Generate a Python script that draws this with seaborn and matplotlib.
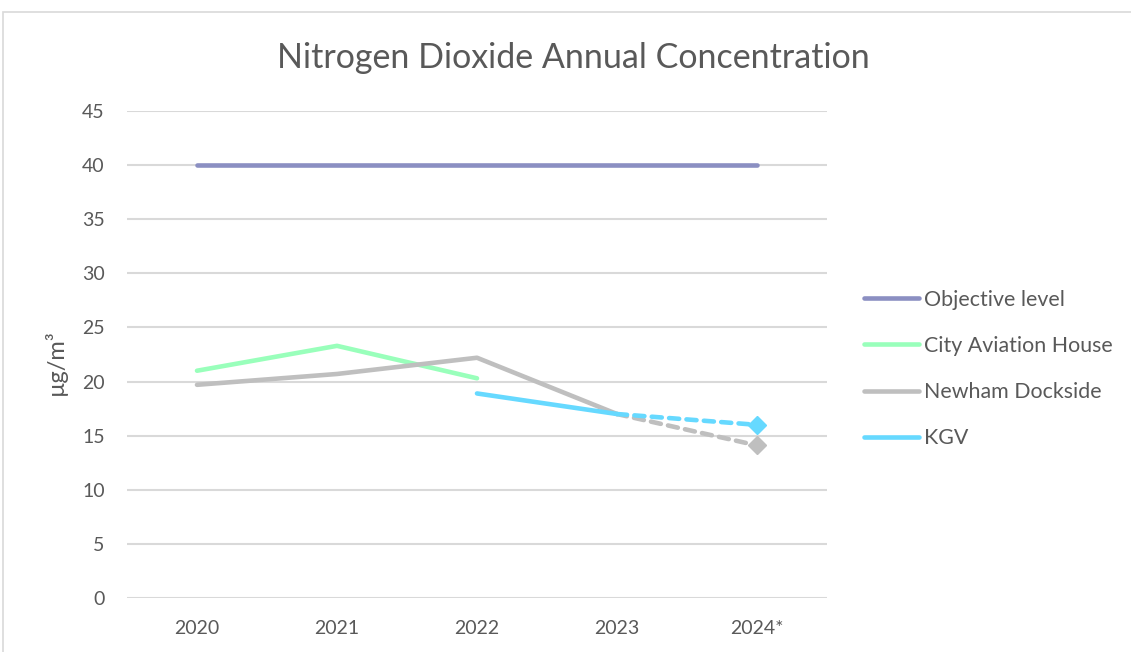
import matplotlib
matplotlib.use("Agg")
import matplotlib.pyplot as plt
from matplotlib.lines import Line2D
from matplotlib.patches import Rectangle
import seaborn as sns

years = ["2020", "2021", "2022", "2023", "2024*"]
objective = [40, 40, 40, 40, 40]
city_aviation = [21.0, 23.3, 20.3]            # 2020-2022
newham = [19.7, 20.7, 22.2, 17.0, 14.1]       # 2020-2024*
kgv = [18.9, 17.0, 16.0]                      # 2022-2024*

names = ["Objective level", "City Aviation House", "Newham Dockside", "KGV"]
colors = ["#8B8FC2", "#99FFBB", "#BFBFBF", "#66D9FF"]

sns.set_theme(style="white")
plt.rcParams["font.family"] = ["Lato", "DejaVu Sans"]
TXT = "#595959"

fig = plt.figure(figsize=(11.31, 6.52), dpi=100)
ax = fig.add_axes([127 / 1131, 1 - 598 / 652, 700 / 1131, (598 - 111) / 652])

lw = 3.3
kw = dict(linewidth=lw, solid_capstyle="round", dash_capstyle="round", ax=ax)

sns.lineplot(x=years, y=objective, color=colors[0], **kw)
sns.lineplot(x=years[:3], y=city_aviation, color=colors[1], **kw)
# measured years solid, provisional year dashed
sns.lineplot(x=years[:4], y=newham[:4], color=colors[2], **kw)
sns.lineplot(x=years[3:], y=newham[3:], color=colors[2], linestyle=(0, (2.2, 1.6)), **kw)
ax.plot(years[-1:], newham[-1:], marker="D", markersize=9, color=colors[2], linestyle="none")
sns.lineplot(x=years[2:4], y=kgv[:2], color=colors[3], **kw)
sns.lineplot(x=years[3:], y=kgv[1:], color=colors[3], linestyle=(0, (2.2, 1.6)), **kw)
ax.plot(years[-1:], kgv[-1:], marker="D", markersize=9, color=colors[3], linestyle="none")

ax.set_xlim(-0.5, 4.5)
ax.set_ylim(0, 45)
ax.set_yticks(range(0, 46, 5))
ax.grid(axis="y", color="#D9D9D9", linewidth=1.5)
ax.set_axisbelow(True)
for s in ax.spines.values():
    s.set_visible(False)
ax.tick_params(axis="both", length=0, labelsize=14, labelcolor=TXT)
ax.tick_params(axis="y", pad=16)
ax.tick_params(axis="x", pad=16)
ax.set_xlabel("")
ax.set_ylabel("")

fig.text(0.507, 1 - 58 / 652, "Nitrogen Dioxide Annual Concentration",
         ha="center", va="center", fontsize=24.5, color=TXT)
fig.text(55 / 1131, 1 - 362 / 652, "µg/m³", rotation=90,
         ha="center", va="center", fontsize=17, color=TXT)

handles = [Line2D([0], [0], color=c, linewidth=lw, solid_capstyle="round") for c in colors]
fig.legend(handles, names, loc="center left", bbox_to_anchor=(864 / 1131, 1 - 369 / 652),
           frameon=False, fontsize=15.4, handlelength=2.55, handletextpad=0.25,
           labelspacing=1.22, borderpad=0, borderaxespad=0, labelcolor=TXT)

fig.patches.append(Rectangle((3 / 1131, -0.1), 1.2, 1.1 - 12 / 652,
                             transform=fig.transFigure, fill=False,
                             edgecolor="#D9D9D9", linewidth=1.2))

fig.savefig("out.png", dpi=100)
plt.close(fig)
